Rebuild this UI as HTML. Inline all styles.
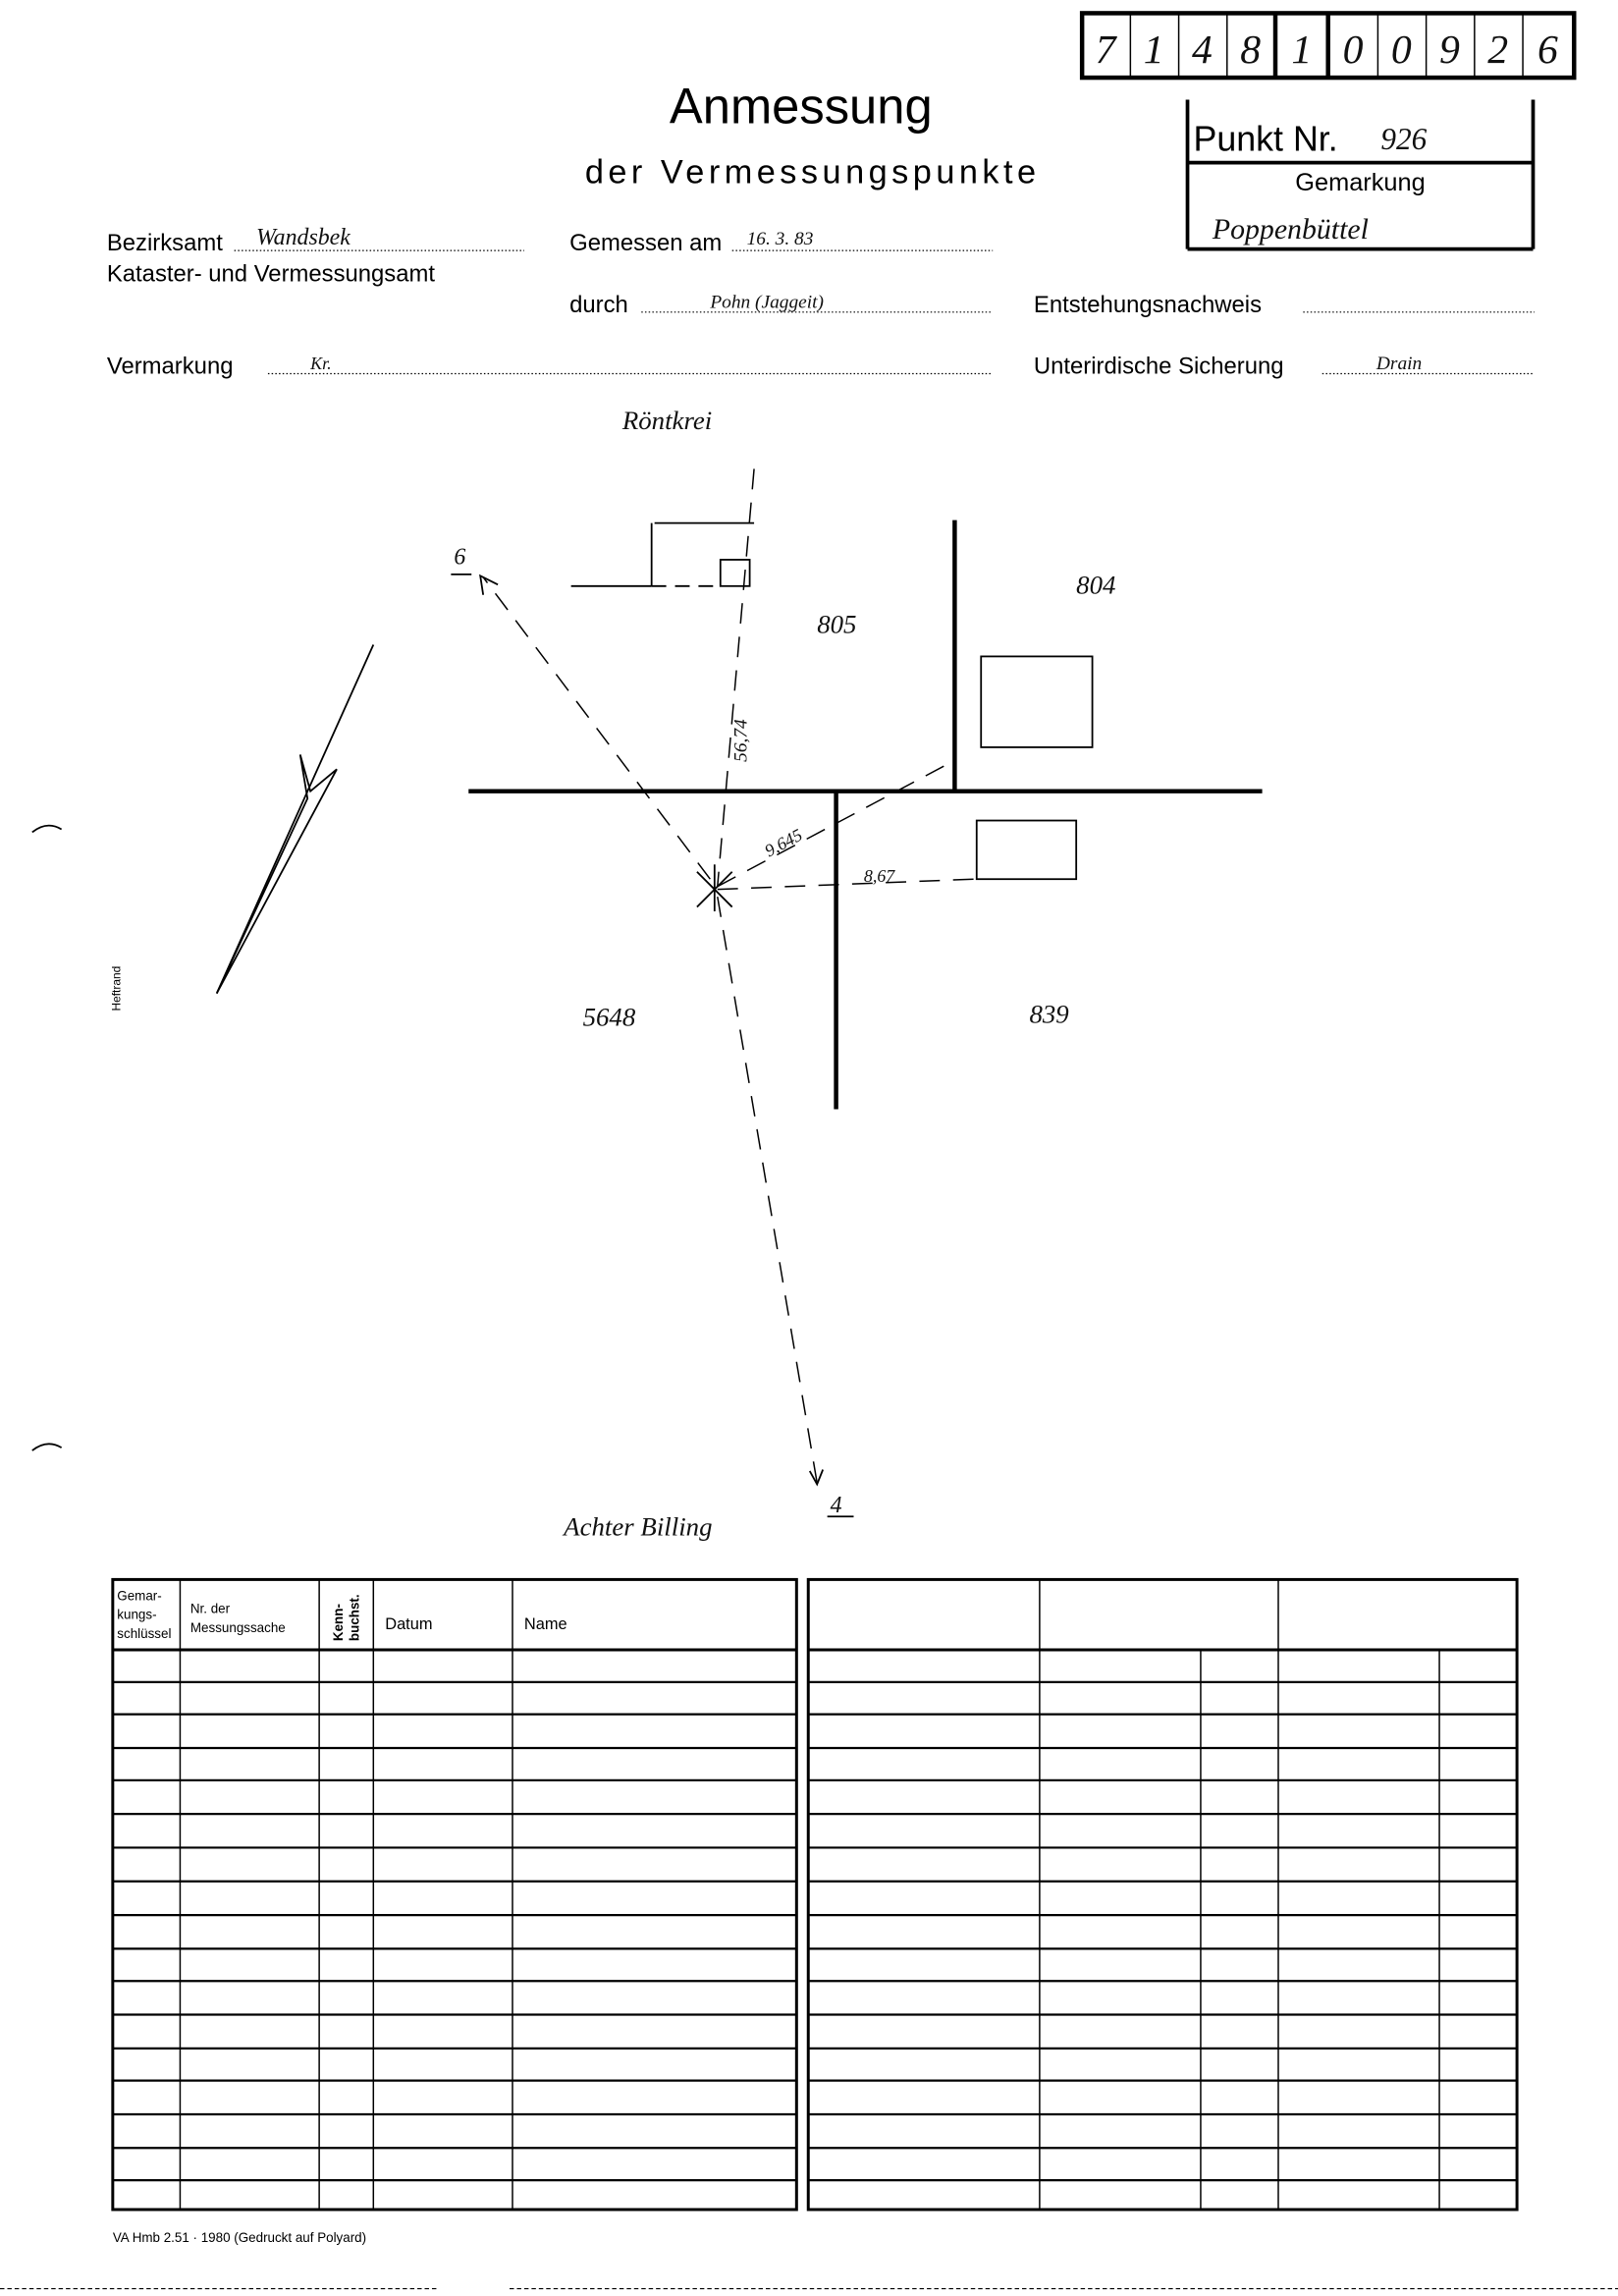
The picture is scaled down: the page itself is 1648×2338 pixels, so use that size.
<!DOCTYPE html>
<html><head><meta charset="utf-8">
<style>
html,body{margin:0;padding:0;background:#fff;}
svg{display:block;}
text{font-family:"Liberation Sans",sans-serif;fill:#000;}
.h{font-family:"Liberation Serif",serif;font-style:italic;fill:#111;}
.n{font-family:"Liberation Sans Narrow","Liberation Sans",sans-serif;}
</style></head>
<body>
<svg width="1648" height="2338" viewBox="0 0 1105 1567" preserveAspectRatio="none" xmlns="http://www.w3.org/2000/svg">
<rect width="1105" height="1567" fill="#fff"/>
<g stroke="#000" fill="none">
<rect x="739" y="9" width="336" height="44" stroke-width="3"/>
<line x1="772" y1="9" x2="772" y2="53" stroke-width="1"/>
<line x1="805" y1="9" x2="805" y2="53" stroke-width="1"/>
<line x1="838" y1="9" x2="838" y2="53" stroke-width="1"/>
<line x1="871" y1="9" x2="871" y2="53" stroke-width="3"/>
<line x1="907" y1="9" x2="907" y2="53" stroke-width="3"/>
<line x1="941" y1="9" x2="941" y2="53" stroke-width="1"/>
<line x1="974" y1="9" x2="974" y2="53" stroke-width="1"/>
<line x1="1007" y1="9" x2="1007" y2="53" stroke-width="1"/>
<line x1="1040" y1="9" x2="1040" y2="53" stroke-width="1"/>
</g>
<g font-size="28" text-anchor="middle">
<text x="755" y="43" class="h">7</text><text x="788" y="43" class="h">1</text><text x="821" y="43" class="h">4</text><text x="854" y="43" class="h">8</text><text x="889" y="43" class="h">1</text><text x="924" y="43" class="h">0</text><text x="957" y="43" class="h">0</text><text x="990" y="43" class="h">9</text><text x="1023" y="43" class="h">2</text><text x="1057" y="43" class="h">6</text>
</g>
<g stroke="#000" stroke-width="2.5" fill="none">
<line x1="811" y1="68" x2="811" y2="170"/>
<line x1="1047" y1="68" x2="1047" y2="170"/>
<line x1="811" y1="170" x2="1047" y2="170"/>
<line x1="811" y1="111" x2="1047" y2="111"/>
</g>
<text x="815" y="103" font-size="24">Punkt Nr.</text>
<text x="943" y="102" font-size="21" class="h">926</text>
<text x="929" y="130" font-size="17" text-anchor="middle">Gemarkung</text>
<text x="828" y="163" font-size="20" class="h">Poppenbüttel</text>
<text x="547" y="84" font-size="34" text-anchor="middle">Anmessung</text>
<text x="555" y="125" font-size="23" text-anchor="middle" letter-spacing="3">der Vermessungspunkte</text>
<g font-size="16">
<text x="73" y="171">Bezirksamt</text>
<text x="73" y="192">Kataster- und Vermessungsamt</text>
<text x="389" y="171">Gemessen am</text>
<text x="389" y="213">durch</text>
<text x="706" y="213">Entstehungsnachweis</text>
<text x="73" y="255">Vermarkung</text>
<text x="706" y="255">Unterirdische Sicherung</text>
</g>
<g stroke="#000" stroke-width="0.8" stroke-dasharray="1,1.5">
<line x1="160" y1="171" x2="358" y2="171"/>
<line x1="500" y1="171" x2="678" y2="171"/>
<line x1="438" y1="213" x2="678" y2="213"/>
<line x1="890" y1="213" x2="1048" y2="213"/>
<line x1="183" y1="255" x2="678" y2="255"/>
<line x1="903" y1="255" x2="1048" y2="255"/>
</g>
<text x="175" y="167" class="h" font-size="16">Wandsbek</text>
<text x="510" y="167" class="h" font-size="13">16. 3. 83</text>
<text x="485" y="210" class="h" font-size="13">Pohn (Jaggeit)</text>
<text x="212" y="252" class="h" font-size="12">Kr.</text>
<text x="940" y="252" class="h" font-size="13">Drain</text>
<text x="425" y="293" font-size="18" class="h">Röntkrei</text>
<g stroke="#000" fill="none">
<line x1="320" y1="540" x2="862" y2="540" stroke-width="3"/>
<line x1="652" y1="355" x2="652" y2="540" stroke-width="3"/>
<line x1="571" y1="540" x2="571" y2="757" stroke-width="3"/>
<g stroke-width="1.2">
<line x1="390" y1="400" x2="445" y2="400"/>
<line x1="445" y1="357" x2="445" y2="400"/>
<line x1="447" y1="357" x2="515" y2="357"/>
<line x1="445" y1="400" x2="490" y2="400" stroke-dasharray="10,6"/>
<rect x="492" y="382" width="20" height="18"/>
<rect x="670" y="448" width="76" height="62"/>
<rect x="667" y="560" width="68" height="40"/>
</g>
<g stroke-width="1" stroke-dasharray="14,9">
<line x1="515" y1="320" x2="490" y2="605"/>
<line x1="485" y1="600" x2="330" y2="394"/>
<line x1="490" y1="612" x2="558" y2="1012"/>
<line x1="490" y1="605" x2="650" y2="520"/>
<line x1="490" y1="607" x2="665" y2="600"/>
</g>
<g stroke-width="1.2">
<polyline points="330,406 328,393 340,399"/>
<polyline points="553,1004 558,1013 562,1003"/>
<line x1="476" y1="595" x2="500" y2="619"/>
<line x1="500" y1="595" x2="476" y2="619"/>
<line x1="488" y1="590" x2="488" y2="622"/>
<line x1="308" y1="392" x2="322" y2="392"/>
<line x1="565" y1="1035" x2="583" y2="1035"/>
<line x1="255" y1="440" x2="148" y2="678"/>
<polyline points="205,515 210,545 148,678 230,525 212,540 205,515"/>
<path d="M22,568 Q32,560 42,566"/>
<path d="M22,990 Q32,982 42,988"/>
</g>
</g>
<g font-size="18">
<text x="310" y="385" class="h" font-size="16">6</text>
<text x="558" y="432" class="h">805</text>
<text x="735" y="405" class="h">804</text>
<text x="398" y="700" class="h">5648</text>
<text x="703" y="698" class="h">839</text>
<text x="567" y="1032" class="h" font-size="16">4</text>
<text x="385" y="1048" class="h">Achter Billing</text>
<text x="590" y="602" class="h" font-size="12">8,67</text>
<text x="525" y="585" class="h" font-size="12" transform="rotate(-28 525 585)">9,645</text>
<text x="510" y="520" class="h" font-size="13" transform="rotate(-90 510 520)">56,74</text>
</g>
<text x="82" y="690" font-size="8" transform="rotate(-90 82 690)">Heftrand</text>
<g stroke="#000" fill="none">
<rect x="77" y="1078" width="467" height="430" stroke-width="2"/>
<rect x="552" y="1078" width="484" height="430" stroke-width="2"/>
<line x1="77" y1="1126" x2="544" y2="1126" stroke-width="2"/>
<line x1="552" y1="1126" x2="1036" y2="1126" stroke-width="2"/>
<g stroke-width="1">
<line x1="123" y1="1078" x2="123" y2="1508"/>
<line x1="218" y1="1078" x2="218" y2="1508"/>
<line x1="255" y1="1078" x2="255" y2="1508"/>
<line x1="350" y1="1078" x2="350" y2="1508"/>
<line x1="710" y1="1078" x2="710" y2="1508"/>
<line x1="873" y1="1078" x2="873" y2="1508"/>
<line x1="820" y1="1126" x2="820" y2="1508"/>
<line x1="983" y1="1126" x2="983" y2="1508"/>
</g>
<g stroke-width="1.5">
<line x1="77" y1="1148" x2="544" y2="1148"/><line x1="552" y1="1148" x2="1036" y2="1148"/>
<line x1="77" y1="1170" x2="544" y2="1170"/><line x1="552" y1="1170" x2="1036" y2="1170"/>
<line x1="77" y1="1193" x2="544" y2="1193"/><line x1="552" y1="1193" x2="1036" y2="1193"/>
<line x1="77" y1="1215" x2="544" y2="1215"/><line x1="552" y1="1215" x2="1036" y2="1215"/>
<line x1="77" y1="1238" x2="544" y2="1238"/><line x1="552" y1="1238" x2="1036" y2="1238"/>
<line x1="77" y1="1261" x2="544" y2="1261"/><line x1="552" y1="1261" x2="1036" y2="1261"/>
<line x1="77" y1="1284" x2="544" y2="1284"/><line x1="552" y1="1284" x2="1036" y2="1284"/>
<line x1="77" y1="1307" x2="544" y2="1307"/><line x1="552" y1="1307" x2="1036" y2="1307"/>
<line x1="77" y1="1330" x2="544" y2="1330"/><line x1="552" y1="1330" x2="1036" y2="1330"/>
<line x1="77" y1="1352" x2="544" y2="1352"/><line x1="552" y1="1352" x2="1036" y2="1352"/>
<line x1="77" y1="1375" x2="544" y2="1375"/><line x1="552" y1="1375" x2="1036" y2="1375"/>
<line x1="77" y1="1398" x2="544" y2="1398"/><line x1="552" y1="1398" x2="1036" y2="1398"/>
<line x1="77" y1="1420" x2="544" y2="1420"/><line x1="552" y1="1420" x2="1036" y2="1420"/>
<line x1="77" y1="1443" x2="544" y2="1443"/><line x1="552" y1="1443" x2="1036" y2="1443"/>
<line x1="77" y1="1466" x2="544" y2="1466"/><line x1="552" y1="1466" x2="1036" y2="1466"/>
<line x1="77" y1="1488" x2="544" y2="1488"/><line x1="552" y1="1488" x2="1036" y2="1488"/>
</g>
</g>
<g class="n" font-size="9">
<text x="80" y="1092">Gemar-</text>
<text x="80" y="1105">kungs-</text>
<text x="80" y="1118">schlüssel</text>
<text x="130" y="1101">Nr. der</text>
<text x="130" y="1114">Messungssache</text>
<text x="263" y="1112" font-size="11">Datum</text>
<text x="358" y="1112" font-size="11">Name</text>
<text x="234" y="1120" transform="rotate(-90 234 1120)" font-weight="bold">Kenn-</text>
<text x="245" y="1120" transform="rotate(-90 245 1120)" font-weight="bold">buchst.</text>
</g>
<text x="77" y="1530" font-size="9">VA Hmb 2.51 · 1980 (Gedruckt auf Polyard)</text>
<g stroke="#000" stroke-width="0.8" stroke-dasharray="3,2">
<line x1="0" y1="1562" x2="300" y2="1562"/>
<line x1="348" y1="1562" x2="1105" y2="1562"/>
</g>
</svg>
</body></html>
